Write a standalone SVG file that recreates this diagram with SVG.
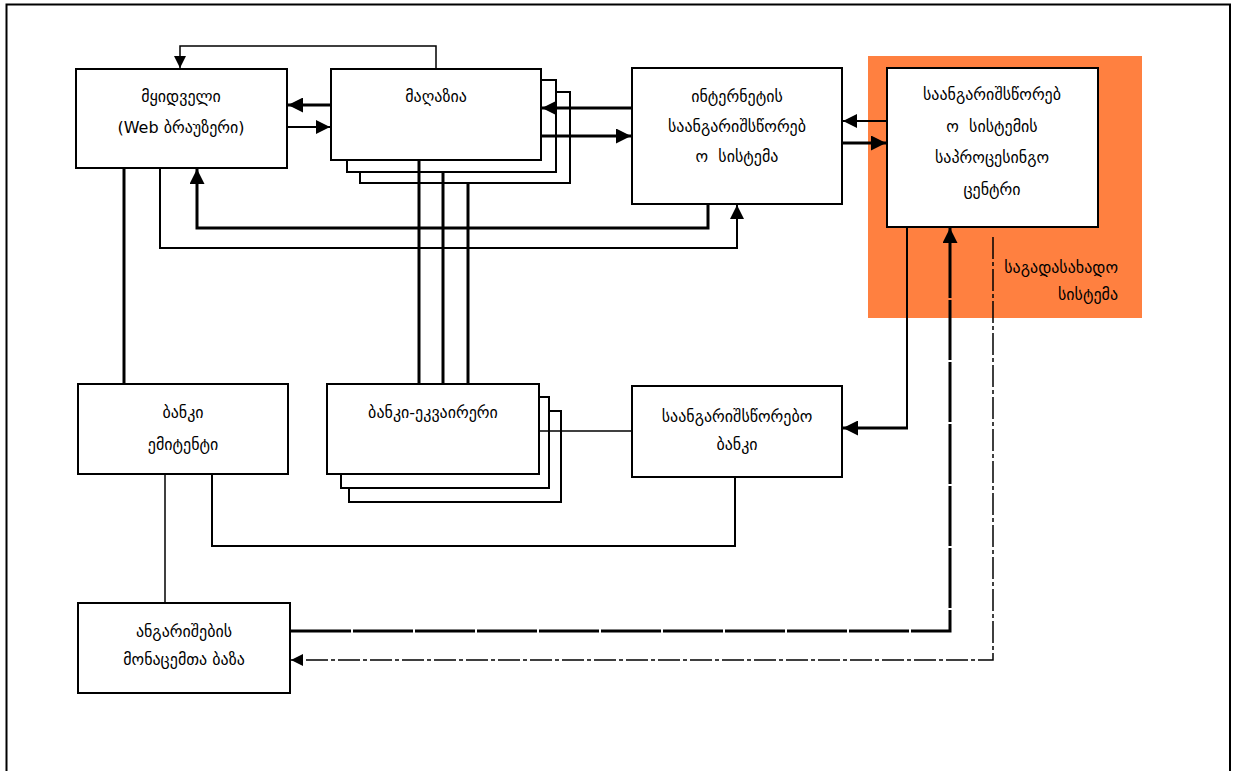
<svg xmlns="http://www.w3.org/2000/svg" width="1235" height="771" viewBox="0 0 1235 771">
<defs>
<marker id="ah" viewBox="0 0 10 10" refX="10" refY="5" markerWidth="5" markerHeight="5" markerUnits="strokeWidth" orient="auto">
<path d="M0,0 L10,5 L0,10 z" fill="#000"/>
</marker>
<marker id="ahs" viewBox="0 0 10 10" refX="10" refY="5" markerWidth="8" markerHeight="8" markerUnits="strokeWidth" orient="auto">
<path d="M0,0 L10,5 L0,10 z" fill="#000"/>
</marker>
<marker id="ahl" viewBox="0 0 10 10" refX="10" refY="5" markerWidth="7" markerHeight="7" markerUnits="strokeWidth" orient="auto">
<path d="M0,0 L10,5 L0,10 z" fill="#000"/>
</marker>
</defs>
<style>
.box{fill:#fff;stroke:#000;stroke-width:2}
.t{font-family:"DejaVu Sans","Noto Sans",sans-serif;font-size:16px;fill:#000;text-anchor:middle;white-space:pre}
.c{fill:none;stroke:#000}
.thin{stroke-width:1.5}
.mid{stroke-width:2}
.thick{stroke-width:3}
</style>
<rect x="0" y="0" width="1235" height="771" fill="#fff"/>
<path d="M6.5,771 V4.5 H1230 V771" fill="none" stroke="#000" stroke-width="2"/>

<g id="payment-system-area">
<rect x="868" y="56" width="274" height="262" fill="#FF8040"/>
</g>

<g id="buyer">
<rect class="box" x="76" y="69" width="211" height="99"/>
<text class="t" x="181" y="102">მყიდველი</text>
<text class="t" x="181" y="133">(Web ბრაუზერი)</text>
</g>

<g id="store">
<rect class="box" x="360" y="92" width="210" height="91"/>
<rect class="box" x="347" y="80" width="209" height="92"/>
<rect class="box" x="331" y="69" width="210" height="91"/>
<text class="t" x="436" y="102">მაღაზია</text>
</g>

<g id="internet-payment-system">
<rect class="box" x="632" y="68" width="210" height="136"/>
<text class="t" x="737" y="102">ინტერნეტის</text>
<text class="t" x="737" y="132">საანგარიშსწორებ</text>
<text class="t" x="737" y="162">ო  სისტემა</text>
</g>

<g id="processing-center">
<rect class="box" x="887" y="68" width="211" height="159"/>
<text class="t" x="992" y="100">საანგარიშსწორებ</text>
<text class="t" x="992" y="132">ო  სისტემის</text>
<text class="t" x="992" y="163">საპროცესინგო</text>
<text class="t" x="992" y="195">ცენტრი</text>
</g>

<g id="bank-issuer">
<rect class="box" x="78" y="384" width="210" height="90"/>
<text class="t" x="183" y="418">ბანკი</text>
<text class="t" x="183" y="450">ემიტენტი</text>
</g>

<g id="bank-acquirer">
<rect class="box" x="349" y="411" width="212" height="91"/>
<rect class="box" x="341" y="397" width="208" height="91"/>
<rect class="box" x="327" y="384" width="212" height="90"/>
<text class="t" x="433" y="418">ბანკი-ეკვაირერი</text>
</g>

<g id="settlement-bank">
<rect class="box" x="632" y="386" width="210" height="91"/>
<text class="t" x="737" y="422">საანგარიშსწორებო</text>
<text class="t" x="737" y="450">ბანკი</text>
</g>

<g id="accounts-database">
<rect class="box" x="78" y="603" width="212" height="90"/>
<text class="t" x="184" y="637">ანგარიშების</text>
<text class="t" x="184" y="665">მონაცემთა ბაზა</text>
</g>

<g id="connectors">
<path class="c thin" d="M436,68 V46 H180 V68" marker-end="url(#ahs)"/>
<path class="c thick" d="M331,105 H288" marker-end="url(#ah)"/>
<path class="c mid" d="M288,127 H330" marker-end="url(#ahl)"/>
<path class="c thick" d="M632,108 H542" marker-end="url(#ah)"/>
<path class="c thick" d="M542,136 H631" marker-end="url(#ah)"/>
<path class="c mid" d="M887,121 H843" marker-end="url(#ahl)"/>
<path class="c thick" d="M843,143 H886" marker-end="url(#ah)"/>
<path class="c thick" d="M708,205 V228 H197 V169" marker-end="url(#ah)"/>
<path class="c mid" d="M160,169 V248 H737 V205" marker-end="url(#ahl)"/>
<path class="c thick" d="M124,169 V383"/>
<path class="c thick" d="M419,161 V383"/>
<path class="c thick" d="M443,173 V383"/>
<path class="c thick" d="M468,184 V383"/>
<path class="c thin" d="M540,431 H631"/>
<path class="c mid" d="M907,228 V428" stroke="#333"/>
<path class="c thick" d="M908,428 H843" marker-end="url(#ah)"/>
<path class="c thin" d="M165,475 V602"/>
<path class="c mid" d="M212,475 V546 H735 V478"/>
<path class="c thick" d="M291,631 H950 V228" marker-end="url(#ah)" stroke-dasharray="60 2"/>
<path class="c thin" d="M993,237 V660 H291" marker-end="url(#ahs)" stroke-dasharray="22 3 4 3"/>
</g>

<g id="payment-system-label">
<text class="t" x="1118" y="273" style="text-anchor:end">საგადასახადო</text>
<text class="t" x="1118" y="300" style="text-anchor:end">სისტემა</text>
</g>
</svg>
